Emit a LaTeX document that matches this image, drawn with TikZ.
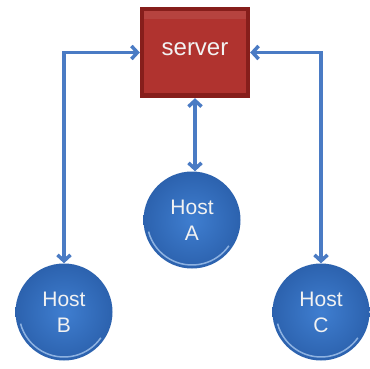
\documentclass[tikz,border=0pt]{standalone}
\usepackage{fontspec}
\setmainfont{Liberation Sans}
\usetikzlibrary{arrows.meta,calc}
\definecolor{linkblue}{HTML}{4A7BC4}
\definecolor{hostblue}{HTML}{3F7ED0}
\definecolor{hostdark}{HTML}{2C62AE}
\definecolor{hostrim}{HTML}{A6C6EE}
\definecolor{srvface}{HTML}{B0332F}
\definecolor{srvedge}{HTML}{861E1B}
\definecolor{labelwhite}{HTML}{F2F2F2}
\tikzset{
  x=1pt, y=-1pt,
  hostnode/.style={circle, minimum size=97pt, inner sep=0pt,
    inner color=hostblue, outer color=hostdark,
    text=labelwhite, font=\fontsize{21}{26}\selectfont, align=center},
  servernode/.style={rectangle, minimum width=110pt, minimum height=91pt,
    inner sep=0pt, fill=srvedge},
  link/.style={draw=linkblue, line width=3.5pt,
    arrows={Straight Barb[length=6pt,width=13pt]-Straight Barb[length=6pt,width=13pt]}}
}
\begin{document}
\begin{tikzpicture}
\useasboundingbox (0,0) rectangle (369,369);
\fill[white] (0,0) rectangle (369,369);

% server box with bevelled face
\node[servernode] (server) at (195,52.5) {};
\fill[srvface] ($(server.north west)+(4,4)$) rectangle ($(server.south east)+(-4,-5)$);
\fill[white, opacity=0.08] ($(server.north west)+(4,4)$) rectangle ($(server.north east)+(-4,12)$);
\node[text=labelwhite, font=\fontsize{24}{28}\selectfont] at ($(server.center)+(0,-3)$) {server};

% hosts
\node[hostnode] (A) at (192,220) {Host\\A};
\node[hostnode] (B) at (64,312) {Host\\B};
\node[hostnode] (C) at (321,312) {Host\\C};

% light rim on the lower side of each host
\foreach \h in {A,B,C}{
  \draw[hostrim, line width=1.5pt, opacity=0.8]
    ($(\h.center)+(165:45)$) arc[start angle=165, end angle=35, radius=45];
}

% links
\draw[link] (server.west) -| (B.north);
\draw[link] (server.east) -| (C.north);
\draw[link] (server.south) -- (server.south |- A.north);
\end{tikzpicture}
\end{document}
